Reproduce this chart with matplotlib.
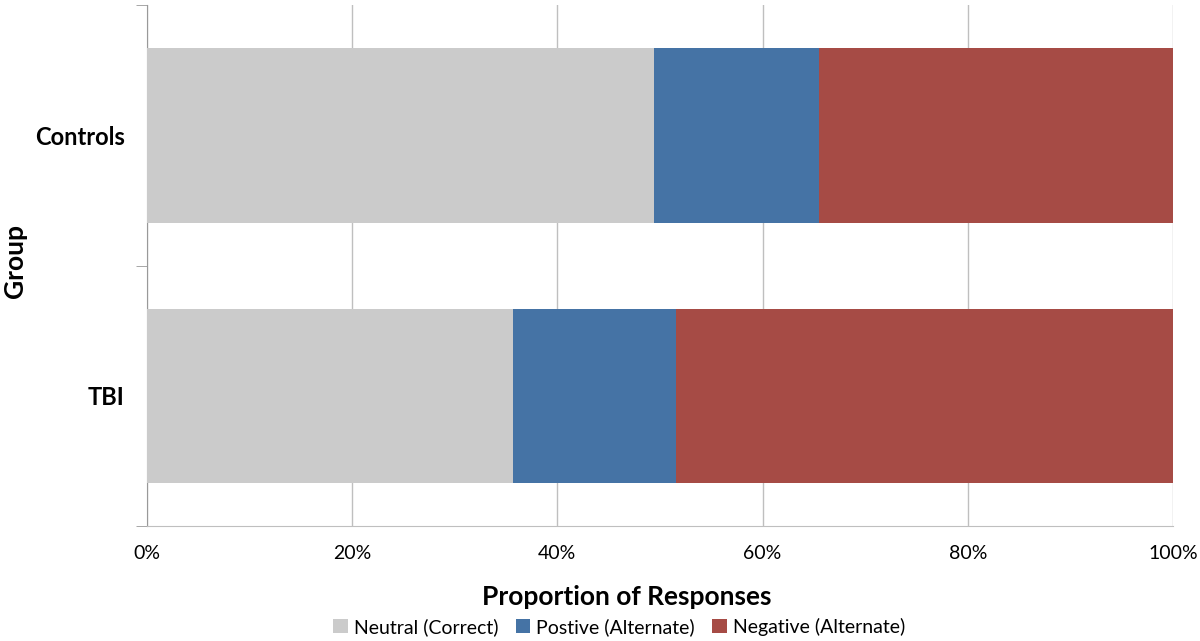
import matplotlib.pyplot as plt
from matplotlib.ticker import PercentFormatter

plt.rcParams['font.family'] = ['Lato', 'DejaVu Sans']

groups = ['TBI', 'Controls']
neutral = [35.7, 49.4]
positive = [15.9, 16.1]
negative = [48.4, 34.5]
labels = ['Neutral (Correct)', 'Postive (Alternate)', 'Negative (Alternate)']
colors = ['#cbcbcb', '#4573a5', '#a64b45']

fig = plt.figure(figsize=(12, 6.41), dpi=100)
ax = fig.add_axes([0.1225, 0.1794, 0.855, 0.8126])

left = [0, 0]
for vals, lab, col in zip([neutral, positive, negative], labels, colors):
    ax.barh(groups, vals, left=left, height=0.67, color=col, label=lab, zorder=3)
    left = [a + b for a, b in zip(left, vals)]

ax.set_xlim(0, 100)
ax.set_ylim(-0.5, 1.5)
ax.set_xticks(range(0, 101, 20))
ax.xaxis.set_major_formatter(PercentFormatter(decimals=0))
ax.grid(axis='x', color='#bfbfbf', linewidth=1, zorder=0)
for s in ['top', 'right']:
    ax.spines[s].set_visible(False)
ax.spines['left'].set_color('#999999')
ax.spines['bottom'].set_color('#bfbfbf')

ax.set_yticks([0, 1])
ax.set_yticklabels(groups, fontsize=17, fontweight='bold')
ax.set_yticks([-0.5, 0.5, 1.5], minor=True)
ax.tick_params(axis='y', which='major', length=0, pad=16)
ax.tick_params(axis='y', which='minor', length=8, color='#999999')
ax.tick_params(axis='x', length=0, pad=14, labelsize=14)

fig.text(0.5225, 0.0686, 'Proportion of Responses', fontsize=19, fontweight='bold',
         ha='center', va='center')
fig.text(0.0125, 0.593, 'Group', fontsize=19, fontweight='bold', rotation=90,
         ha='center', va='center')

fig.legend(*ax.get_legend_handles_labels(), loc='center', bbox_to_anchor=(0.516, 0.022),
           ncol=3, frameon=False, fontsize=14, handlelength=0.75, handleheight=0.75,
           handletextpad=0.3, columnspacing=0.9, borderpad=0)

fig.savefig('out.png')
